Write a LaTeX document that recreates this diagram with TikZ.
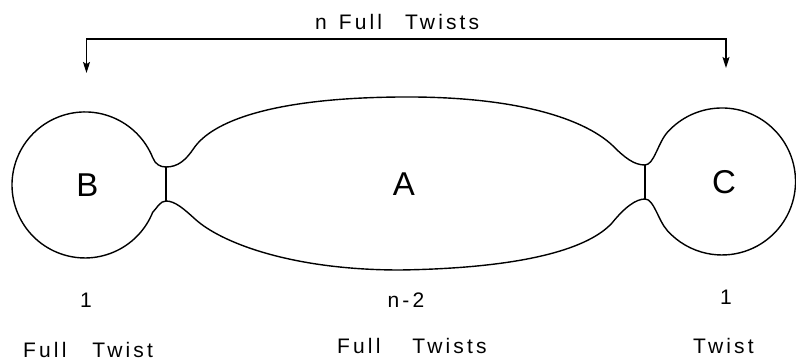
\documentclass[tikz,border=0pt]{standalone}
\usepackage{fontspec}
\setmainfont{Liberation Sans}
\newfontfamily\lblfont{Liberation Sans}[LetterSpace=15]
\usetikzlibrary{arrows.meta}
\begin{document}
\begin{tikzpicture}[x=1pt,y=1pt,
  outline/.style={line width=1.4pt, line join=round, line cap=round},
  bracket/.style={line width=1.3pt,
    {Stealth[length=11pt,width=7pt,inset=2pt]}-{Stealth[length=11pt,width=7pt,inset=2pt]}},
  small/.style={font=\lblfont\fontsize{21}{22}\selectfont, inner sep=0pt},
  big/.style={font=\fontsize{33}{33}\selectfont, inner sep=0pt}]
\useasboundingbox (0,0) rectangle (796,360);

% neck points
\coordinate (TL) at (166,193);
\coordinate (BL) at (166,159);
\coordinate (TR) at (645,195);
\coordinate (BR) at (645,161);

% outline of B, A, C
\draw[outline] (TL) .. controls (178,193) and (186,200) .. (194,212)
  .. controls (212,238) and (270,262) .. (400,263)
  .. controls (520,264) and (585,240) .. (612,215)
  .. controls (625,202) and (634,195) .. (TR)
  .. controls (654,195) and (658,217.3) .. (667.4,227.7)
  arc[start angle=138, end angle=-138, radius=73.5]
  .. controls (658,139.7) and (654,161) .. (BR)
  .. controls (636,161) and (625,153) .. (612,137)
  .. controls (590,113) and (530,92) .. (400,90)
  .. controls (290,90) and (220,118) .. (195,141)
  .. controls (184,151) and (175,159) .. (BL)
  .. controls (160,159) and (157,152) .. (152.7,147.7)
  arc[start angle=-22, end angle=-338, radius=73]
  .. controls (155.3,195.8) and (160,193) .. (TL) -- cycle;

% necks
\draw[outline] (TL) -- (BL);
\draw[outline] (TR) -- (BR);

% bracket
\coordinate (arrB) at (86.5,287);
\coordinate (arrC) at (726,292);
\coordinate (topB) at (86.5,321);
\coordinate (topC) at (726,321);
\draw[bracket] (arrB) -- (topB) -- (topC) -- (arrC);

% labels
\node[small, anchor=base west] (ntw) at (315,331) {n\hspace{12pt}Full\hspace{23pt}Twists};
\node[big] (B) at (87.5,175) {B};
\node[big] (A) at (404,175.5) {A};
\node[big] (C) at (724,178) {C};
\node[small] (oneB) at (86,60) {1};
\node[small] (nm2) at (406,60) {n-2};
\node[small] (oneC) at (726,63) {1};
\node[small, anchor=base west] (ftB) at (23,3) {Full\hspace{26pt}Twist};
\node[small, anchor=base west] (ftA) at (337,7) {Full\hspace{32pt}Twists};
\node[small, anchor=base west] (tC) at (693,7) {Twist};
\end{tikzpicture}
\end{document}
